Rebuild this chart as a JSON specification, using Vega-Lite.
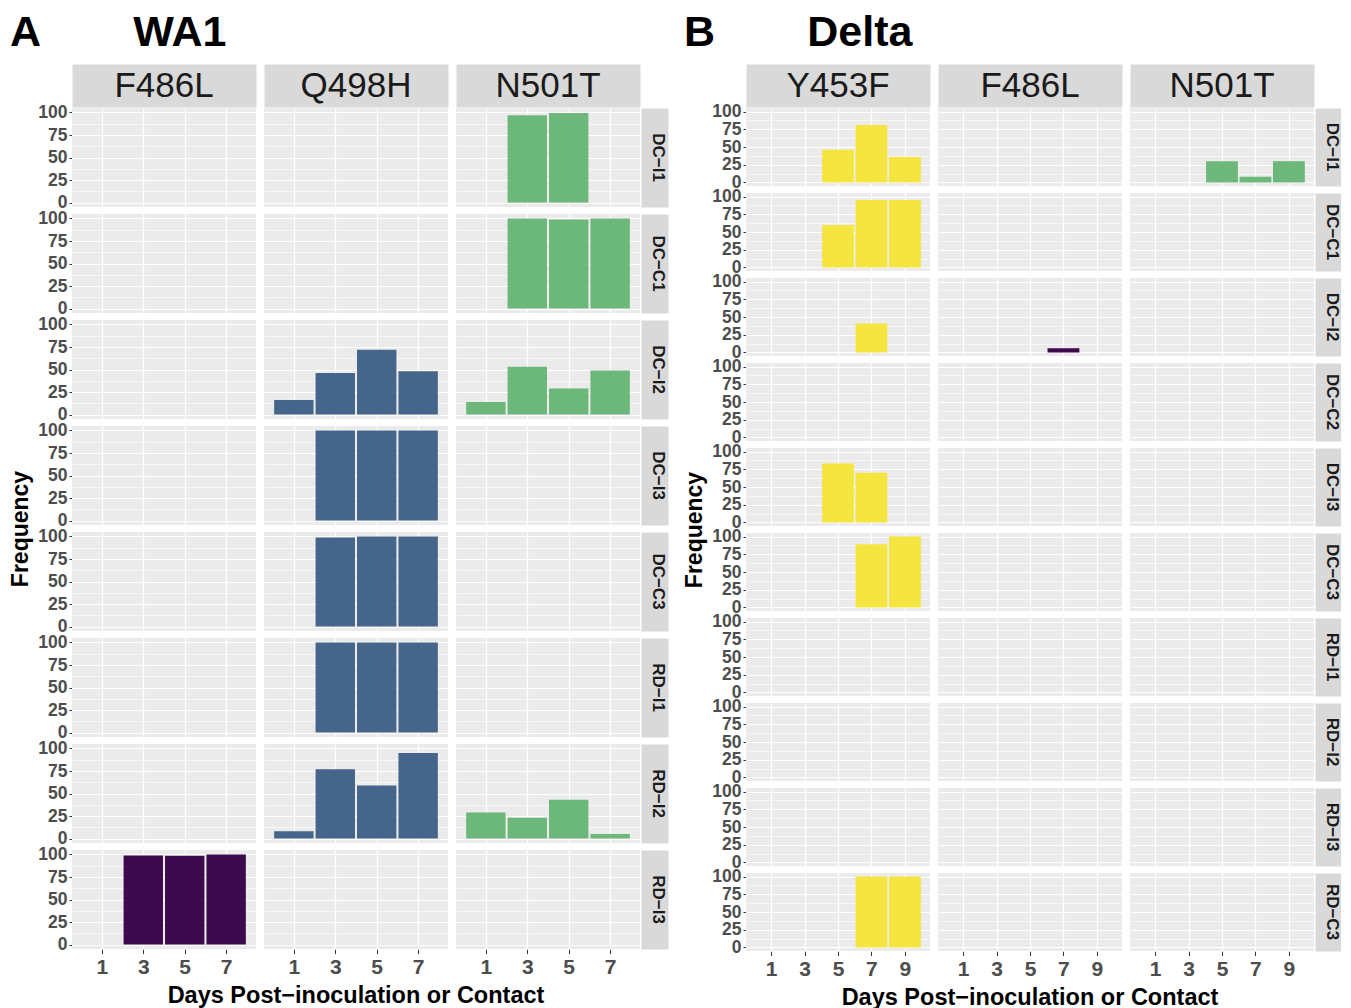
{
  "$schema": "https://vega.github.io/schema/vega-lite/v6.json",
  "background": "white",
  "padding": {"left": 9, "top": 12, "right": 0, "bottom": 0},
  "spacing": 16,
  "datasets": {
    "wa1": [
      {"animal": "DC−I1", "mutation": "N501T", "day": 3, "freq": 97},
      {"animal": "DC−I1", "mutation": "N501T", "day": 5, "freq": 99.5},
      {"animal": "DC−I1", "mutation": "F486L", "day": 1, "freq": 0},
      {"animal": "DC−I1", "mutation": "Q498H", "day": 1, "freq": 0},
      {"animal": "DC−C1", "mutation": "N501T", "day": 3, "freq": 100},
      {"animal": "DC−C1", "mutation": "N501T", "day": 5, "freq": 99},
      {"animal": "DC−C1", "mutation": "N501T", "day": 7, "freq": 100},
      {"animal": "DC−C1", "mutation": "F486L", "day": 1, "freq": 0},
      {"animal": "DC−C1", "mutation": "Q498H", "day": 1, "freq": 0},
      {"animal": "DC−I2", "mutation": "Q498H", "day": 1, "freq": 16},
      {"animal": "DC−I2", "mutation": "Q498H", "day": 3, "freq": 46},
      {"animal": "DC−I2", "mutation": "Q498H", "day": 5, "freq": 72},
      {"animal": "DC−I2", "mutation": "Q498H", "day": 7, "freq": 48},
      {"animal": "DC−I2", "mutation": "N501T", "day": 1, "freq": 14},
      {"animal": "DC−I2", "mutation": "N501T", "day": 3, "freq": 53},
      {"animal": "DC−I2", "mutation": "N501T", "day": 5, "freq": 29},
      {"animal": "DC−I2", "mutation": "N501T", "day": 7, "freq": 49},
      {"animal": "DC−I2", "mutation": "F486L", "day": 1, "freq": 0},
      {"animal": "DC−I3", "mutation": "Q498H", "day": 3, "freq": 100},
      {"animal": "DC−I3", "mutation": "Q498H", "day": 5, "freq": 100},
      {"animal": "DC−I3", "mutation": "Q498H", "day": 7, "freq": 100},
      {"animal": "DC−I3", "mutation": "F486L", "day": 1, "freq": 0},
      {"animal": "DC−I3", "mutation": "N501T", "day": 1, "freq": 0},
      {"animal": "DC−C3", "mutation": "Q498H", "day": 3, "freq": 99},
      {"animal": "DC−C3", "mutation": "Q498H", "day": 5, "freq": 100},
      {"animal": "DC−C3", "mutation": "Q498H", "day": 7, "freq": 100},
      {"animal": "DC−C3", "mutation": "F486L", "day": 1, "freq": 0},
      {"animal": "DC−C3", "mutation": "N501T", "day": 1, "freq": 0},
      {"animal": "RD−I1", "mutation": "Q498H", "day": 3, "freq": 100},
      {"animal": "RD−I1", "mutation": "Q498H", "day": 5, "freq": 100},
      {"animal": "RD−I1", "mutation": "Q498H", "day": 7, "freq": 100},
      {"animal": "RD−I1", "mutation": "F486L", "day": 1, "freq": 0},
      {"animal": "RD−I1", "mutation": "N501T", "day": 1, "freq": 0},
      {"animal": "RD−I2", "mutation": "Q498H", "day": 1, "freq": 8},
      {"animal": "RD−I2", "mutation": "Q498H", "day": 3, "freq": 77},
      {"animal": "RD−I2", "mutation": "Q498H", "day": 5, "freq": 59},
      {"animal": "RD−I2", "mutation": "Q498H", "day": 7, "freq": 95},
      {"animal": "RD−I2", "mutation": "N501T", "day": 1, "freq": 29},
      {"animal": "RD−I2", "mutation": "N501T", "day": 3, "freq": 23},
      {"animal": "RD−I2", "mutation": "N501T", "day": 5, "freq": 43},
      {"animal": "RD−I2", "mutation": "N501T", "day": 7, "freq": 5},
      {"animal": "RD−I2", "mutation": "F486L", "day": 1, "freq": 0},
      {"animal": "RD−I3", "mutation": "F486L", "day": 3, "freq": 99},
      {"animal": "RD−I3", "mutation": "F486L", "day": 5, "freq": 98.5},
      {"animal": "RD−I3", "mutation": "F486L", "day": 7, "freq": 100},
      {"animal": "RD−I3", "mutation": "Q498H", "day": 1, "freq": 0},
      {"animal": "RD−I3", "mutation": "N501T", "day": 1, "freq": 0}
    ],
    "delta": [
      {"animal": "DC−I1", "mutation": "Y453F", "day": 5, "freq": 46},
      {"animal": "DC−I1", "mutation": "Y453F", "day": 7, "freq": 81},
      {"animal": "DC−I1", "mutation": "Y453F", "day": 9, "freq": 36},
      {"animal": "DC−I1", "mutation": "N501T", "day": 5, "freq": 30},
      {"animal": "DC−I1", "mutation": "N501T", "day": 7, "freq": 8},
      {"animal": "DC−I1", "mutation": "N501T", "day": 9, "freq": 30},
      {"animal": "DC−I1", "mutation": "F486L", "day": 1, "freq": 0},
      {"animal": "DC−C1", "mutation": "Y453F", "day": 5, "freq": 60},
      {"animal": "DC−C1", "mutation": "Y453F", "day": 7, "freq": 95},
      {"animal": "DC−C1", "mutation": "Y453F", "day": 9, "freq": 95},
      {"animal": "DC−C1", "mutation": "F486L", "day": 1, "freq": 0},
      {"animal": "DC−C1", "mutation": "N501T", "day": 1, "freq": 0},
      {"animal": "DC−I2", "mutation": "Y453F", "day": 7, "freq": 41},
      {"animal": "DC−I2", "mutation": "F486L", "day": 7, "freq": 6},
      {"animal": "DC−I2", "mutation": "N501T", "day": 1, "freq": 0},
      {"animal": "DC−C2", "mutation": "Y453F", "day": 1, "freq": 0},
      {"animal": "DC−C2", "mutation": "F486L", "day": 1, "freq": 0},
      {"animal": "DC−C2", "mutation": "N501T", "day": 1, "freq": 0},
      {"animal": "DC−I3", "mutation": "Y453F", "day": 5, "freq": 83},
      {"animal": "DC−I3", "mutation": "Y453F", "day": 7, "freq": 70},
      {"animal": "DC−I3", "mutation": "F486L", "day": 1, "freq": 0},
      {"animal": "DC−I3", "mutation": "N501T", "day": 1, "freq": 0},
      {"animal": "DC−C3", "mutation": "Y453F", "day": 7, "freq": 89},
      {"animal": "DC−C3", "mutation": "Y453F", "day": 9, "freq": 100},
      {"animal": "DC−C3", "mutation": "F486L", "day": 1, "freq": 0},
      {"animal": "DC−C3", "mutation": "N501T", "day": 1, "freq": 0},
      {"animal": "RD−I1", "mutation": "Y453F", "day": 1, "freq": 0},
      {"animal": "RD−I1", "mutation": "F486L", "day": 1, "freq": 0},
      {"animal": "RD−I1", "mutation": "N501T", "day": 1, "freq": 0},
      {"animal": "RD−I2", "mutation": "Y453F", "day": 1, "freq": 0},
      {"animal": "RD−I2", "mutation": "F486L", "day": 1, "freq": 0},
      {"animal": "RD−I2", "mutation": "N501T", "day": 1, "freq": 0},
      {"animal": "RD−I3", "mutation": "Y453F", "day": 1, "freq": 0},
      {"animal": "RD−I3", "mutation": "F486L", "day": 1, "freq": 0},
      {"animal": "RD−I3", "mutation": "N501T", "day": 1, "freq": 0},
      {"animal": "RD−C3", "mutation": "Y453F", "day": 7, "freq": 100},
      {"animal": "RD−C3", "mutation": "Y453F", "day": 9, "freq": 100},
      {"animal": "RD−C3", "mutation": "F486L", "day": 1, "freq": 0},
      {"animal": "RD−C3", "mutation": "N501T", "day": 1, "freq": 0}
    ]
  },
  "hconcat": [
    {
      "title": {"text": "A\u00a0\u00a0\u00a0\u00a0\u00a0\u00a0\u00a0\u2009WA1", "anchor": "start", "frame": "bounds", "fontSize": 43, "fontWeight": "bold", "color": "black", "offset": 14},
      "data": {"name": "wa1"},
      "spacing": {"row": 7, "column": 8},
      "facet": {
        "row": {
          "field": "animal", "type": "nominal",
          "sort": ["DC−I1", "DC−C1", "DC−I2", "DC−I3", "DC−C3", "RD−I1", "RD−I2", "RD−I3"],
          "header": {"title": "Frequency", "titleOrient": "left", "labelOrient": "right", "labelAngle": 90, "labelAlign": "center", "labelBaseline": "middle", "labelPadding": -13.5, "labelFontSize": 17, "labelFontWeight": "bold", "labelColor": "#1a1a1a", "titleFontSize": 23, "titleFontWeight": "bold", "titleColor": "black", "titlePadding": -6}
        },
        "column": {
          "field": "mutation", "type": "nominal",
          "sort": ["F486L", "Q498H", "N501T"],
          "header": {"title": "Days Post−inoculation or Contact", "titleOrient": "bottom", "labelOrient": "top", "labelAlign": "center", "labelBaseline": "middle", "labelPadding": -35.5, "labelFontSize": 35, "labelFontWeight": "normal", "labelColor": "#1a1a1a", "titleFontSize": 23.5, "titleFontWeight": "bold", "titleColor": "black", "titlePadding": -4}
        }
      },
      "spec": {
        "width": 184,
        "height": 99,
        "layer": [
          {
            "mark": {"type": "bar", "orient": "vertical", "width": 39.4},
            "encoding": {
              "x": {"field": "day", "type": "quantitative", "scale": {"domain": [-0.2, 8.2], "nice": false, "zero": false},
                "axis": {"orient": "bottom", "values": [1, 3, 5, 7], "title": null, "grid": true, "gridColor": "white", "gridWidth": 1.2, "domain": false, "tickColor": "#333333", "tickSize": 4.5, "labelPadding": 3, "labelFontSize": 21, "labelFontWeight": "bold", "labelColor": "#4d4d4d"}},
              "y": {"field": "freq", "type": "quantitative", "scale": {"domain": [-5, 105], "nice": false, "zero": false},
                "axis": {"orient": "left", "values": [0, 12.5, 25, 37.5, 50, 62.5, 75, 87.5, 100], "labelExpr": "datum.value % 25 === 0 ? datum.label : ''", "labelOverlap": false, "title": null, "grid": true, "gridColor": "white", "gridWidth": {"condition": {"test": "datum.value % 25 === 0", "value": 1.2}, "value": 0.6}, "domain": false, "tickColor": "#333333", "tickSize": 3, "tickOpacity": {"condition": {"test": "datum.value % 25 === 0", "value": 1}, "value": 0}, "labelPadding": 2, "labelFontSize": 17.5, "labelFontWeight": "bold", "labelColor": "#4d4d4d"}},
              "color": {"field": "mutation", "type": "nominal", "scale": {"domain": ["F486L", "Q498H", "N501T", "Y453F"], "range": ["#3d0a4e", "#46658a", "#6cb87a", "#f5e540"]}, "legend": null}
            }
          },
          {
            "mark": {"type": "point", "opacity": 0},
            "encoding": {
              "x": {"field": "day", "type": "quantitative",
                "axis": {"orient": "top", "title": null, "grid": false, "ticks": false, "labels": false, "domain": true, "domainColor": "#d9d9d9", "domainWidth": 43, "domainCap": "butt", "offset": 22.5}},
              "y": {"field": "freq", "type": "quantitative",
                "axis": {"orient": "right", "title": null, "grid": false, "ticks": false, "labels": false, "domain": true, "domainColor": "#d9d9d9", "domainWidth": 27, "domainCap": "butt", "offset": 14.5}}
            }
          }
        ]
      }
    },
    {
      "title": {"text": "B\u00a0\u00a0\u00a0\u00a0\u00a0\u00a0\u00a0\u2009Delta", "anchor": "start", "frame": "bounds", "fontSize": 43, "fontWeight": "bold", "color": "black", "offset": 14},
      "data": {"name": "delta"},
      "spacing": {"row": 7, "column": 8},
      "facet": {
        "row": {
          "field": "animal", "type": "nominal",
          "sort": ["DC−I1", "DC−C1", "DC−I2", "DC−C2", "DC−I3", "DC−C3", "RD−I1", "RD−I2", "RD−I3", "RD−C3"],
          "header": {"title": "Frequency", "titleOrient": "left", "labelOrient": "right", "labelAngle": 90, "labelAlign": "center", "labelBaseline": "middle", "labelPadding": -13.5, "labelFontSize": 17, "labelFontWeight": "bold", "labelColor": "#1a1a1a", "titleFontSize": 23, "titleFontWeight": "bold", "titleColor": "black", "titlePadding": -6}
        },
        "column": {
          "field": "mutation", "type": "nominal",
          "sort": ["Y453F", "F486L", "N501T"],
          "header": {"title": "Days Post−inoculation or Contact", "titleOrient": "bottom", "labelOrient": "top", "labelAlign": "center", "labelBaseline": "middle", "labelPadding": -35.5, "labelFontSize": 35, "labelFontWeight": "normal", "labelColor": "#1a1a1a", "titleFontSize": 23.5, "titleFontWeight": "bold", "titleColor": "black", "titlePadding": -4}
        }
      },
      "spec": {
        "width": 184,
        "height": 78,
        "layer": [
          {
            "mark": {"type": "bar", "orient": "vertical", "width": 31.8},
            "encoding": {
              "x": {"field": "day", "type": "quantitative", "scale": {"domain": [-0.2, 10.2], "nice": false, "zero": false},
                "axis": {"orient": "bottom", "values": [1, 3, 5, 7, 9], "title": null, "grid": true, "gridColor": "white", "gridWidth": 1.2, "domain": false, "tickColor": "#333333", "tickSize": 4.5, "labelPadding": 3, "labelFontSize": 21, "labelFontWeight": "bold", "labelColor": "#4d4d4d"}},
              "y": {"field": "freq", "type": "quantitative", "scale": {"domain": [-5, 105], "nice": false, "zero": false},
                "axis": {"orient": "left", "values": [0, 12.5, 25, 37.5, 50, 62.5, 75, 87.5, 100], "labelExpr": "datum.value % 25 === 0 ? datum.label : ''", "labelOverlap": false, "title": null, "grid": true, "gridColor": "white", "gridWidth": {"condition": {"test": "datum.value % 25 === 0", "value": 1.2}, "value": 0.6}, "domain": false, "tickColor": "#333333", "tickSize": 3, "tickOpacity": {"condition": {"test": "datum.value % 25 === 0", "value": 1}, "value": 0}, "labelPadding": 2, "labelFontSize": 17.5, "labelFontWeight": "bold", "labelColor": "#4d4d4d"}},
              "color": {"field": "mutation", "type": "nominal", "scale": {"domain": ["F486L", "Q498H", "N501T", "Y453F"], "range": ["#3d0a4e", "#46658a", "#6cb87a", "#f5e540"]}, "legend": null}
            }
          },
          {
            "mark": {"type": "point", "opacity": 0},
            "encoding": {
              "x": {"field": "day", "type": "quantitative",
                "axis": {"orient": "top", "title": null, "grid": false, "ticks": false, "labels": false, "domain": true, "domainColor": "#d9d9d9", "domainWidth": 43, "domainCap": "butt", "offset": 22.5}},
              "y": {"field": "freq", "type": "quantitative",
                "axis": {"orient": "right", "title": null, "grid": false, "ticks": false, "labels": false, "domain": true, "domainColor": "#d9d9d9", "domainWidth": 27, "domainCap": "butt", "offset": 14.5}}
            }
          }
        ]
      }
    }
  ],
  "config": {
    "font": "Liberation Sans",
    "view": {"fill": "#ebebeb", "stroke": null},
    "axis": {"labelFont": "Liberation Sans", "titleFont": "Liberation Sans"},
    "header": {"labelFont": "Liberation Sans", "titleFont": "Liberation Sans"},
    "title": {"font": "Liberation Sans"}
  }
}
